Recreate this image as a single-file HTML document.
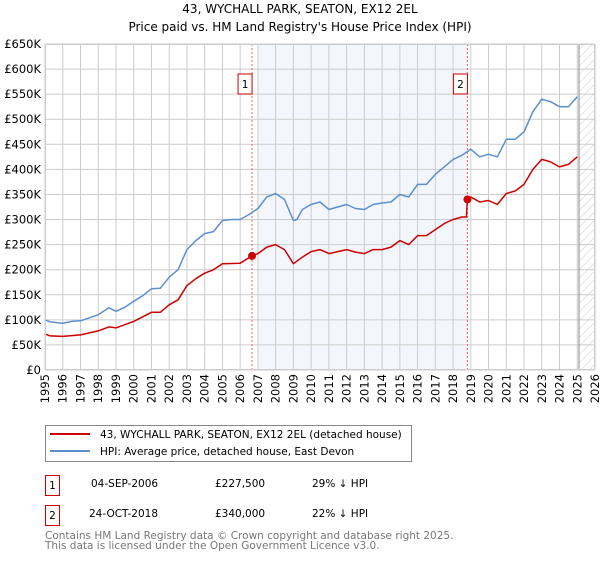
<!DOCTYPE html>
<html><head><meta charset="utf-8"><style>
body{margin:0;background:#fff;font-family:"DejaVu Sans","Liberation Sans",sans-serif;}
svg text{font-family:"DejaVu Sans","Liberation Sans",sans-serif;}
</style></head><body>
<svg id="chart" width="600" height="560" xmlns="http://www.w3.org/2000/svg">
<defs><pattern id="hatch" width="6" height="6" patternUnits="userSpaceOnUse" patternTransform="rotate(45)"><line x1="0" y1="0" x2="0" y2="6" stroke="#ccc" stroke-width="1"/></pattern></defs>
<text x="300" y="13" text-anchor="middle" font-size="12">43, WYCHALL PARK, SEATON, EX12 2EL</text>
<text x="300" y="31" text-anchor="middle" font-size="12">Price paid vs. HM Land Registry's House Price Index (HPI)</text>
<g id="plot"></g>
<rect x="45.5" y="425.5" width="366" height="36" fill="#fff" stroke="#888"/>
<line x1="50" y1="434" x2="90" y2="434" stroke="#cc0000" stroke-width="2"/>
<text x="100" y="438" font-size="10.5">43, WYCHALL PARK, SEATON, EX12 2EL (detached house)</text>
<line x1="50" y1="451" x2="90" y2="451" stroke="#5b8fd0" stroke-width="2"/>
<text x="100" y="455" font-size="10.5">HPI: Average price, detached house, East Devon</text>
<g font-size="10.5">
<rect x="45.5" y="475.5" width="14" height="20" fill="#fff" stroke="#cc0000"/><text x="52.5" y="489" text-anchor="middle">1</text>
<text x="91" y="487">04-SEP-2006</text><text x="215" y="487">£227,500</text><text x="312" y="487">29% ↓ HPI</text></g>
<g font-size="10.5">
<rect x="45.5" y="505.5" width="14" height="20" fill="#fff" stroke="#cc0000"/><text x="52.5" y="519" text-anchor="middle">2</text>
<text x="89" y="517">24-OCT-2018</text><text x="215" y="517">£340,000</text><text x="312" y="517">22% ↓ HPI</text></g>
<text x="45" y="539" font-size="10.5" fill="#777">Contains HM Land Registry data © Crown copyright and database right 2025.</text>
<text x="45" y="549" font-size="10.5" fill="#777">This data is licensed under the Open Government Licence v3.0.</text>
</svg>
<script>
const hpiYears=[1995,1995.3,1996,1996.5,1997,1997.5,1998,1998.6,1999,1999.5,2000,2000.5,2001,2001.5,2002,2002.5,2003,2003.5,2004,2004.5,2005,2005.5,2006,2006.5,2007,2007.5,2008,2008.5,2009,2009.2,2009.5,2010,2010.5,2011,2011.5,2012,2012.5,2013,2013.5,2014,2014.5,2015,2015.5,2016,2016.5,2017,2017.5,2018,2018.5,2019,2019.5,2020,2020.5,2021,2021.5,2022,2022.5,2023,2023.5,2024,2024.5,2025];
const hpiValues=[100,96,93,97,98,104,110,124,117,125,137,148,162,163,185,200,240,258,272,276,298,300,300,310,322,345,352,340,298,300,320,330,335,320,325,330,322,320,330,333,335,350,345,370,370,390,405,420,428,440,425,430,425,460,460,475,515,540,535,525,525,545];
const priceYears=[1995,1995.3,1996,1997,1998,1998.6,1999,2000,2001,2001.5,2002,2002.5,2003,2003.5,2004,2004.5,2005,2006,2006.67,2007,2007.5,2008,2008.5,2009,2009.5,2010,2010.5,2011,2011.5,2012,2012.5,2013,2013.5,2014,2014.5,2015,2015.5,2016,2016.5,2017,2017.5,2018,2018.5,2018.75,2018.81,2019,2019.5,2020,2020.5,2021,2021.5,2022,2022.5,2023,2023.5,2024,2024.5,2025];
const priceValues=[72,68,67,70,78,86,84,97,115,115,130,140,168,182,193,200,212,213,227.5,232,245,250,240,212,225,236,240,232,236,240,235,232,240,240,245,258,250,268,268,280,292,300,305,305,340,345,335,338,330,352,357,370,400,420,415,405,410,425];
const yTicks=[0,50,100,150,200,250,300,350,400,450,500,550,600,650];
const yTickLabels=["£0","£50K","£100K","£150K","£200K","£250K","£300K","£350K","£400K","£450K","£500K","£550K","£600K","£650K"];
const xTicks=[1995,1996,1997,1998,1999,2000,2001,2002,2003,2004,2005,2006,2007,2008,2009,2010,2011,2012,2013,2014,2015,2016,2017,2018,2019,2020,2021,2022,2023,2024,2025,2026];
const saleYears=[2006.67,2018.81];
const saleValues=[227.5,340];
const saleLabels=["1","2"];
const X0=45,X1=595,Y0=370,Y1=44;
const xs=y=>X0+(y-1995)/(2026-1995)*(X1-X0);
const ys=v=>Y0-v/650*(Y0-Y1);
const NS="http://www.w3.org/2000/svg";
const g=document.getElementById('plot');
function mk(t,a,p){const e=document.createElementNS(NS,t);for(const k in a)e.setAttribute(k,a[k]);(p||g).appendChild(e);return e;}
let e;
e=mk('rect',{x:xs(2007),y:Y1,width:xs(2018.81)-xs(2007),height:Y0-Y1,fill:'#eef3fc',opacity:0.7});


e=mk('rect',{x:xs(2025.1),y:Y1,width:X1-xs(2025.1),height:Y0-Y1,fill:'url(#hatch)'});


yTicks.forEach((v,i)=>{
 e=mk('line',{x1:X0,x2:X1,y1:ys(v),y2:ys(v),stroke:'#ccc'});
 
 
 e=mk('text',{x:X0-4,y:ys(v)+4,'text-anchor':'end','font-size':'11.5'});e.textContent=yTickLabels[i];
 
 
});
xTicks.forEach(y=>{
 e=mk('line',{x1:xs(y),x2:xs(y),y1:Y1,y2:Y0,stroke:'#ccc'});
 
 
 e=mk('text',{x:xs(y)+4,y:Y0+4,'text-anchor':'end','font-size':'11.5',transform:`rotate(-90 ${xs(y)+4} ${Y0+4})`});e.textContent=y;
 
 
});
e=mk('line',{x1:xs(2025.1),x2:xs(2025.1),y1:Y1,y2:Y0,stroke:'#888'});


saleYears.forEach((y,i)=>{
 e=mk('line',{x1:xs(y),x2:xs(y),y1:Y1,y2:Y0,stroke:'#f06060','stroke-dasharray':'2,2'});
 
 
 e=mk('rect',{x:xs(y)-14,y:74,width:14,height:20,fill:'#fff',stroke:'#cc0000'});
 
 
 e=mk('text',{x:xs(y)-7,y:88,'text-anchor':'middle','font-size':'10.5'});e.textContent=saleLabels[i];
 
 
});
function line(xa,va,c,n){
 e=mk('polyline',{points:xa.map((y,i)=>xs(y).toFixed(1)+','+ys(va[i]).toFixed(1)).join(' '),fill:'none',stroke:c,'stroke-width':1.5,'stroke-linejoin':'round'});
 
 
}
line(hpiYears,hpiValues,'#5b8fd0','hpi-line');
line(priceYears,priceValues,'#cc0000','price-line');
saleYears.forEach((y,i)=>{
 e=mk('circle',{cx:xs(y),cy:ys(saleValues[i]),r:4,fill:'#cc0000'});
 
 
});
e=mk('rect',{x:X0+0.5,y:Y1+0.5,width:X1-X0-1,height:Y0-Y1-1,fill:'none',stroke:'#ccc'});


</script>
</body></html>
